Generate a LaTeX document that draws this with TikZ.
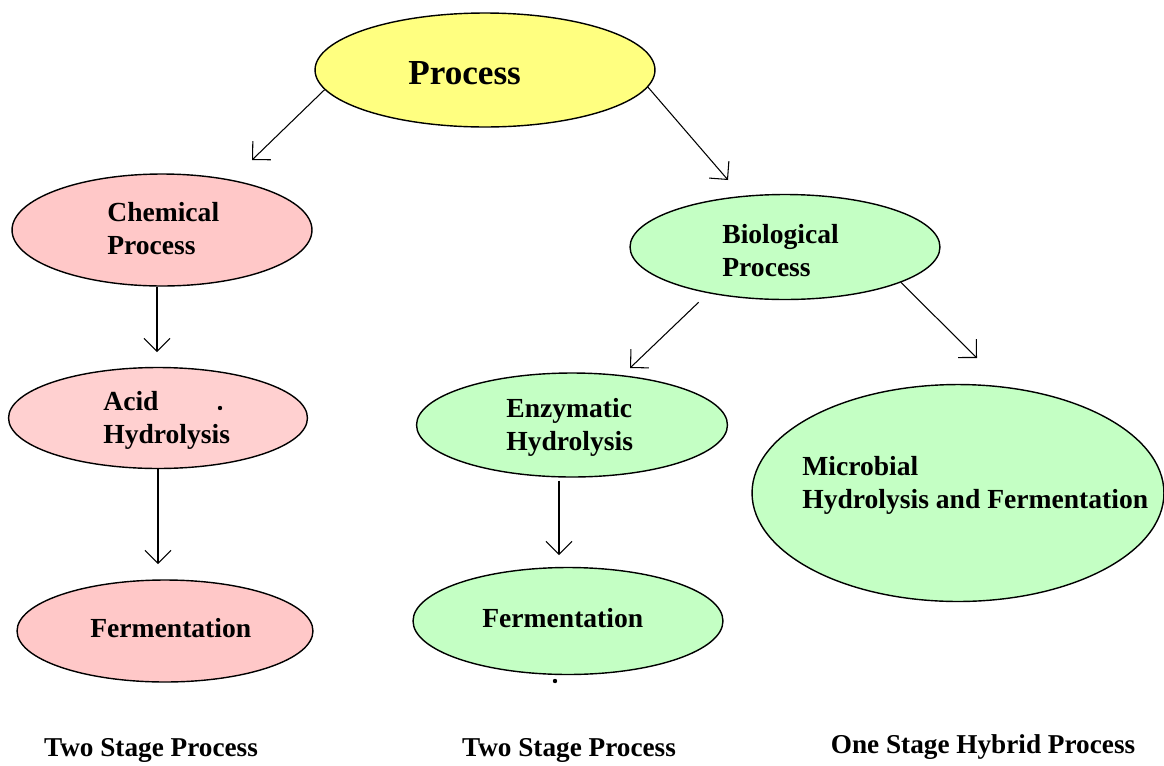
\documentclass[tikz,border=0pt]{standalone}
\usepackage{fontspec}
\setmainfont{Liberation Serif}
\usetikzlibrary{shapes.geometric,arrows.meta}
\definecolor{procyellow}{HTML}{FFFF80}
\definecolor{pinkfill}{HTML}{FFC8C8}
\definecolor{pinklight}{HTML}{FFD0D0}
\definecolor{greenfill}{HTML}{C4FFC4}
\begin{document}
\begin{tikzpicture}[x=0.02cm,y=-0.02cm,
  ell/.style={ellipse, draw=black, line width=0.8pt, inner sep=0pt},
  lbl/.style={font=\bfseries\fontsize{15.7}{18.8}\selectfont, align=left, anchor=west, inner sep=0pt},
  captext/.style={font=\bfseries\fontsize{15.5}{18}\selectfont, inner sep=0pt},
  arr/.style={-{Straight Barb[length=0.26cm,width=0.52cm]}, line width=0.6pt},
  speck/.style={circle, fill=black, inner sep=0pt, minimum size=2.5pt}
]
\useasboundingbox (0,0) rectangle (1164,765);

% ellipses
\node[ell, fill=procyellow, minimum width=6.8cm, minimum height=2.28cm] (proc) at (485,70) {};
\node[ell, fill=pinkfill, minimum width=6.0cm, minimum height=2.24cm] (chem) at (162,230) {};
\node[ell, fill=pinklight, minimum width=5.98cm, minimum height=2.02cm] (acid) at (158,418) {};
\node[ell, fill=pinkfill, minimum width=5.92cm, minimum height=2.04cm] (fermL) at (165,631) {};
\node[ell, fill=greenfill, minimum width=6.2cm, minimum height=2.1cm] (bio) at (785,247) {};
\node[ell, fill=greenfill, minimum width=6.22cm, minimum height=2.08cm] (enz) at (572,425) {};
\node[ell, fill=greenfill, minimum width=6.2cm, minimum height=2.14cm] (fermM) at (568,621) {};
\node[ell, fill=greenfill, minimum width=8.24cm, minimum height=4.34cm] (micro) at (958,493) {};

% texts
\node[lbl, font=\bfseries\fontsize{20}{24}\selectfont] (tproc) at (408,73) {Process};
\node[lbl] (tchem) at (107,229) {Chemical\\Process};
\node[lbl] (tacid) at (103,420) {Acid\\Hydrolysis};
\node[lbl] (tfermL) at (90,628) {Fermentation};
\node[lbl] (tbio) at (722,251) {Biological\\Process};
\node[lbl] (tenz) at (506,427) {Enzymatic\\Hydrolysis};
\node[lbl] (tfermM) at (482,618) {Fermentation};
\node[lbl] (tmicro) at (802,485) {Microbial\\Hydrolysis and Fermentation};

% specks
\node[speck] (s1) at (220,408) {};
\node[speck] (s2) at (555,681) {};

% arrow tips
\coordinate (t1) at (252,160);
\coordinate (t2) at (728,180);
\coordinate (t3) at (157,352);
\coordinate (t4) at (158,564);
\coordinate (t5) at (630,368);
\coordinate (t6) at (977,358);
\coordinate (t7) at (559,555);

\draw[arr] (proc.187) -- (t1);
\draw[arr] (proc.354) -- (t2);
\draw[arr] (chem.south -| t3) -- (t3);
\draw[arr] (acid.south -| t4) -- (t4);
\draw[arr, shorten <=0.26cm] (bio.211) -- (t5);
\draw[arr] (bio.343) -- (t6);
\draw[arr] ([yshift=-0.06cm]enz.south -| t7) -- (t7);

% bottom captions
\node[captext] (c1) at (151,750) {Two Stage Process};
\node[captext] (c2) at (569,750) {Two Stage Process};
\node[captext] (c3) at (983,747) {One Stage Hybrid Process};
\end{tikzpicture}
\end{document}
